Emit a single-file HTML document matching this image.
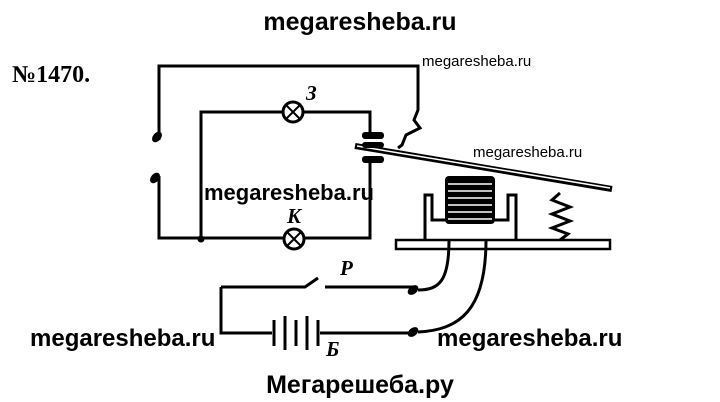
<!DOCTYPE html><html><head><style>body{margin:0;background:#fff}svg{display:block}</style></head><body>
<svg width="720" height="402" viewBox="0 0 720 402" xmlns="http://www.w3.org/2000/svg" font-family="Liberation Sans, sans-serif">
<g stroke="#000" stroke-width="3" fill="none">
<path d="M159 140 V66 H418 V110 L414 120 L420 128 L406 135 L402 145 L398 148"/>
<path d="M159 176 V238 H284 M304 238 H370 V160"/>
<path d="M201 238 V112 H283 M303 112 H370 V132"/>
<circle cx="293" cy="112" r="10"/><path d="M286 105 L300 119 M300 105 L286 119" stroke-width="2"/>
<circle cx="294" cy="239" r="10"/><path d="M287 232 L301 246 M301 232 L287 246" stroke-width="2"/>
<path d="M355 146 L612 189" stroke-width="6"/>
<path d="M357 146 L610 188" stroke="#fff" stroke-width="1.5"/>
<path d="M425 240 V195 H432 V220 H508 V195 H516 V240"/>
<rect x="396" y="240" width="214" height="9" stroke-width="2.5"/>
<path d="M560 193 L552 200 L570 207 L552 214 L570 221 L552 228 L568 234 L560 240"/>
<path d="M449 240 C449 280 440 290 418 290"/>
<path d="M486 240 C486 310 460 330 418 332"/>
<path d="M221 287 H305 L318 278 M325 287 H415 M221 287 V333 H272 M320 333 H415"/>
<path d="M274 320 V346 M285 316 V350 M296 320 V346 M307 316 V350 M318 320 V346" stroke-width="3"/>
</g>
<rect x="445" y="176" width="50" height="48" rx="4" fill="#000"/>
<g stroke="#fff" stroke-width="1.5"><path d="M448 184H492M448 191H492M448 198H492M448 205H492M448 212H492M448 219H492"/></g>
<rect x="362" y="132" width="22" height="7" rx="3" fill="#000"/>
<rect x="362" y="142" width="22" height="6" rx="3" fill="#000"/>
<rect x="362" y="156" width="22" height="7" rx="3" fill="#000"/>
<g fill="#000"><ellipse cx="157" cy="137" rx="4" ry="6" transform="rotate(40 157 137)"/><ellipse cx="155" cy="178" rx="4" ry="6" transform="rotate(40 155 178)"/>
<ellipse cx="413" cy="290" rx="4" ry="6" transform="rotate(50 413 290)"/><ellipse cx="413" cy="332" rx="4" ry="6" transform="rotate(50 413 332)"/>
<circle cx="201" cy="239" r="3.5"/></g>
<g font-weight="bold" fill="#000">
<text x="360" y="30" font-size="25" text-anchor="middle">megaresheba.ru</text>
<text x="12" y="82" font-size="24" font-family="Liberation Serif, serif">№1470.</text>
<text x="204" y="200" font-size="22">megaresheba.ru</text>
<text x="30" y="346" font-size="24">megaresheba.ru</text>
<text x="437" y="346" font-size="24">megaresheba.ru</text>
<text x="360" y="393" font-size="25" text-anchor="middle">Мегарешеба.ру</text>
<g font-family="Liberation Serif, serif" font-style="italic" font-size="21"><text x="306" y="100">З</text><text x="287" y="223">K</text><text x="340" y="275">P</text><text x="326" y="356">Б</text></g>
</g>
<g fill="#000" font-size="15"><text x="422" y="66">megaresheba.ru</text><text x="473" y="157">megaresheba.ru</text></g>
</svg></body></html>
